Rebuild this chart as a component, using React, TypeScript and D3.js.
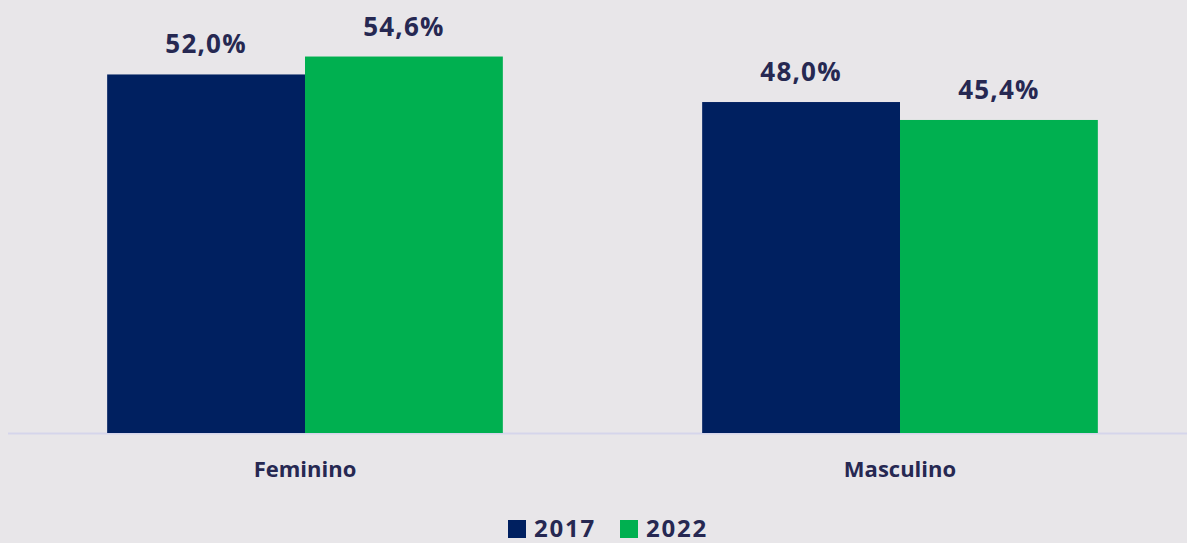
import React from "react";
import { scaleBand, scaleLinear } from "d3";

const categories = ["Feminino", "Masculino"];
const series = ["2017", "2022"];
const values2017 = [52.0, 48.0];
const values2022 = [54.6, 45.4];
const colors = ["#002060", "#00B050"];

const W = 1187;
const H = 543;
const BASE = 433;
const textColor = "#262852";
const font = "'Open Sans', 'DejaVu Sans', sans-serif";

const fmt = (v: number) => v.toFixed(1).replace(".", ",") + "%";

export default function App() {
  const x = scaleBand<string>()
    .domain(categories)
    .range([7.5, 1197.5])
    .paddingInner(0.335)
    .paddingOuter(0.1675);
  const xs = scaleBand<string>().domain(series).range([0, x.bandwidth()]);
  const y = scaleLinear().domain([0, 60]).range([BASE, BASE - 60 * 6.895]);

  const data = [values2017, values2022];

  return (
    <div style={{ position: "absolute", left: 0, top: 0 }}>
      <svg width={W} height={H} style={{ display: "block" }}>
        <rect width={W} height={H} fill="#E8E6E9" />
        <line x1={8} x2={W} y1={BASE + 0.5} y2={BASE + 0.5} stroke="#D5D5EB" strokeWidth={2} />
        {categories.map((c, ci) => (
          <g key={c} transform={`translate(${x(c)},0)`}>
            {series.map((s, si) => {
              const v = data[si][ci];
              const bx = xs(s)!;
              return (
                <g key={s}>
                  <rect x={bx} y={y(v)} width={xs.bandwidth()} height={BASE - y(v)} fill={colors[si]} />
                  <text
                    x={bx + xs.bandwidth() / 2}
                    y={y(v) - 21}
                    textAnchor="middle"
                    fontFamily={font}
                    fontWeight={700}
                    fontSize={26}
                    letterSpacing={1.2}
                    fill={textColor}
                  >
                    {fmt(v)}
                  </text>
                </g>
              );
            })}
            <text
              x={x.bandwidth() / 2}
              y={477}
              textAnchor="middle"
              fontFamily={font}
              fontWeight={700}
              fontSize={22}
              fill={textColor}
            >
              {c}
            </text>
          </g>
        ))}
        {series.map((s, i) => (
          <g key={s} transform={`translate(${508 + i * 112},520)`}>
            <rect width={18} height={18} fill={colors[i]} />
            <text x={26} y={17} fontFamily={font} fontWeight={700} fontSize={24} letterSpacing={1.8} fill={textColor}>
              {s}
            </text>
          </g>
        ))}
      </svg>
    </div>
  );
}
